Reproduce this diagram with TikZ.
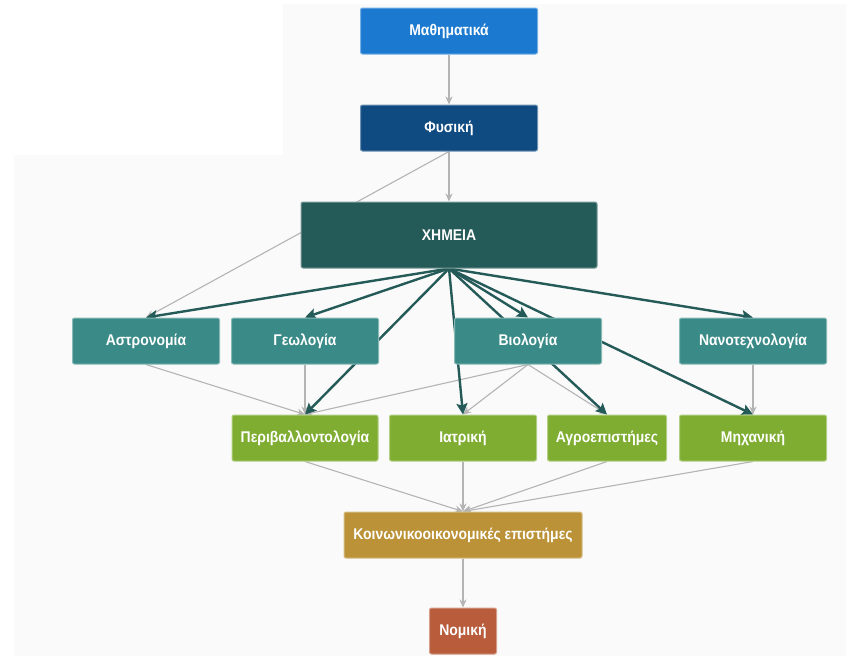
\documentclass[tikz,border=0pt]{standalone}
\usepackage{fontspec}
\setmainfont[FakeStretch=0.9]{Liberation Sans}
\usetikzlibrary{arrows.meta,backgrounds}

\definecolor{mathblue}{HTML}{1B79D0}
\definecolor{physblue}{HTML}{0F4A80}
\definecolor{chemteal}{HTML}{245A57}
\definecolor{fieldteal}{HTML}{3A8A87}
\definecolor{applgreen}{HTML}{7FAD32}
\definecolor{socgold}{HTML}{BB9237}
\definecolor{lawred}{HTML}{B85C3C}
\definecolor{linkgray}{HTML}{B4B4B4}
\definecolor{pagegray}{HTML}{FAFAFA}

\begin{document}
\begin{tikzpicture}[
  x=1pt, y=-1pt,
  box/.style={rectangle, rounded corners=2pt, draw=#1!60!white, line width=1pt, fill=#1,
    text=white, font=\bfseries\fontsize{15.5}{18}\selectfont, minimum height=46pt, inner sep=2pt},
  link/.style={draw=linkgray, line width=1.1pt, -{Stealth[length=8pt, width=7pt, inset=2.5pt]}},
  chemlink/.style={draw=chemteal, line width=2.4pt, -{Stealth[length=11pt, width=11pt, inset=2pt]}}
]
\useasboundingbox (0,0) rectangle (850,657);

% Nodes
\node[box=mathblue, minimum width=177pt] (math) at (449,31) {Μαθηματικά};
\node[box=physblue, minimum width=177pt] (phys) at (449,128) {Φυσική};
\node[box=chemteal, minimum width=296pt, minimum height=66pt] (chem) at (449,235) {ΧΗΜΕΙΑ};

\node[box=fieldteal, minimum width=147pt] (astro) at (146,341) {Αστρονομία};
\node[box=fieldteal, minimum width=147pt] (geo) at (305,341) {Γεωλογία};
\node[box=fieldteal, minimum width=147pt] (bio) at (528,341) {Βιολογία};
\node[box=fieldteal, minimum width=147pt] (nano) at (753,341) {Νανοτεχνολογία};

\node[box=applgreen, minimum width=146pt] (env) at (305,438) {Περιβαλλοντολογία};
\node[box=applgreen, minimum width=147pt] (med) at (463,438) {Ιατρική};
\node[box=applgreen, minimum width=119pt] (agro) at (607,438) {Αγροεπιστήμες};
\node[box=applgreen, minimum width=147pt] (mech) at (753,438) {Μηχανική};

\node[box=socgold, minimum width=238pt] (soc) at (463,535) {Κοινωνικοοικονομικές επιστήμες};
\node[box=lawred, minimum width=67pt] (law) at (463,631) {Νομική};

\begin{scope}[on background layer]
% Page
\fill[pagegray] (283,4) -- (846,4) -- (846,656) -- (14,656) -- (14,155) -- (283,155) -- cycle;

% Grey links
\draw[link] (math.south) -- (phys.north);
\draw[link] (phys.south) -- (chem.north);
\draw[link] (phys.south) -- (astro.north);
\draw[link] (astro.south) -- (env.north);
\draw[link] (geo.south) -- (env.north);
\draw[link] (bio.south) -- (env.north);
\draw[link] (bio.south) -- (med.north);
\draw[link] (bio.south) -- (agro.north);
\draw[link] (nano.south) -- (mech.north);
\draw[link] (env.south) -- (soc.north);
\draw[link] (med.south) -- (soc.north);
\draw[link] (agro.south) -- (soc.north);
\draw[link] (mech.south) -- (soc.north);
\draw[link] (soc.south) -- (law.north);

% Links out of chemistry
\draw[chemlink] (chem.south) -- (astro.north);
\draw[chemlink] (chem.south) -- (geo.north);
\draw[chemlink] (chem.south) -- (env.north);
\draw[chemlink] (chem.south) -- (med.north);
\draw[chemlink] (chem.south) -- (bio.north);
\draw[chemlink] (chem.south) -- (agro.north);
\draw[chemlink] (chem.south) -- (mech.north);
\draw[chemlink] (chem.south) -- (nano.north);
\end{scope}

\end{tikzpicture}
\end{document}
